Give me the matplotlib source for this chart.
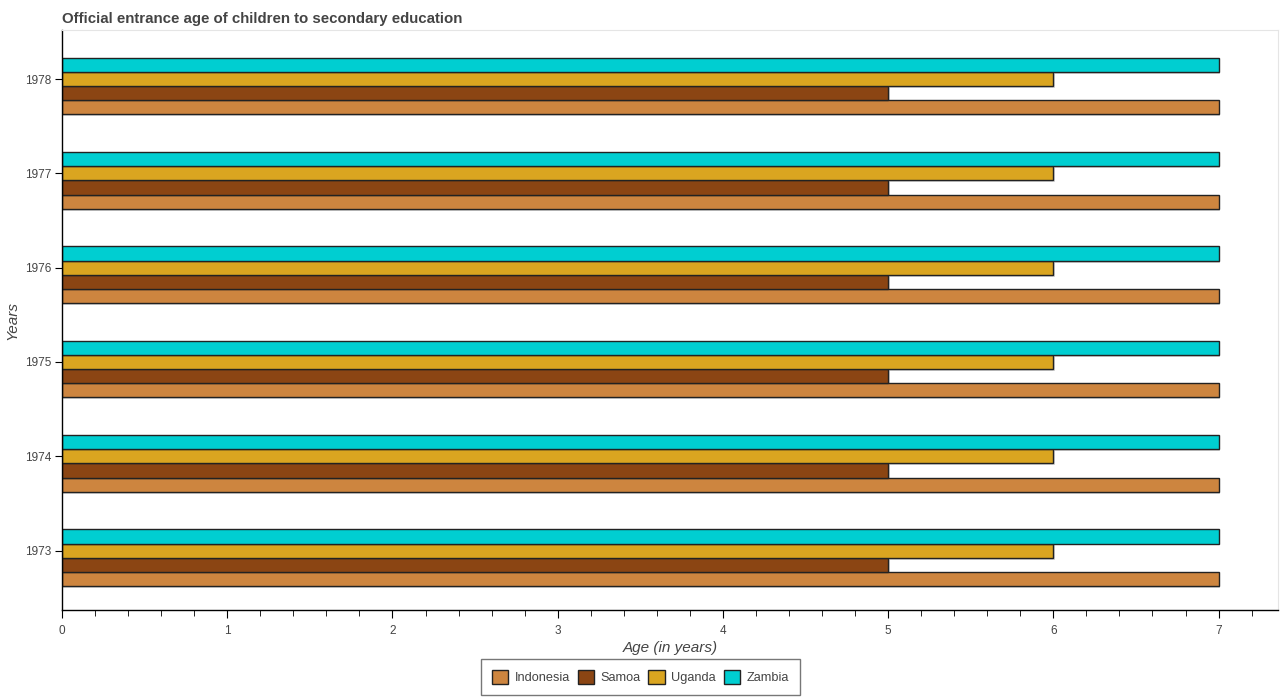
import numpy as np
import matplotlib.pyplot as plt
from matplotlib.ticker import MultipleLocator
from matplotlib.patches import Patch

plt.rcParams['font.family'] = ['Liberation Sans', 'DejaVu Sans']

# data
years = [1973, 1974, 1975, 1976, 1977, 1978]
countries = ['Indonesia', 'Samoa', 'Uganda', 'Zambia']
indonesia = [7, 7, 7, 7, 7, 7]
samoa = [5, 5, 5, 5, 5, 5]
uganda = [6, 6, 6, 6, 6, 6]
zambia = [7, 7, 7, 7, 7, 7]

colors = ['#CD853F', '#8B4513', '#DAA520', '#00CED1']
offsets = [-0.3, -0.15, 0.0, 0.15]
bar_h = 0.15

fig = plt.figure(figsize=(12.82, 7), dpi=100)
ax = fig.add_axes([0.0484, 0.1286, 0.9485, 0.8284])

y = np.array(years, dtype=float)
for vals, col, off in zip([indonesia, samoa, uganda, zambia], colors, offsets):
    # soft shadow under each bar
    ax.barh(y + off - 0.02, np.array(vals) + 0.01, height=bar_h, color='#bbbbbb',
            alpha=0.6, linewidth=0, zorder=1)
    ax.barh(y + off, vals, height=bar_h, color=col, edgecolor='#222222',
            linewidth=1, zorder=2)

ax.set_xlim(0, 7.36)
ax.set_ylim(1972.37, 1978.52)
ax.set_yticks(years)
ax.set_yticklabels([str(v) for v in years])
ax.xaxis.set_major_locator(MultipleLocator(1))
ax.xaxis.set_minor_locator(MultipleLocator(0.2))

for s in ['top', 'right']:
    ax.spines[s].set_color('#e5e5e5')
for s in ['left', 'bottom']:
    ax.spines[s].set_color('black')
    ax.spines[s].set_linewidth(1)

ax.tick_params(axis='both', colors='black', labelcolor='#444444', labelsize=8.5)
ax.tick_params(axis='x', which='major', length=6, pad=5)
ax.tick_params(axis='x', which='minor', length=4)
ax.tick_params(axis='y', length=5, pad=3)

ax.set_xlabel('Age (in years)', fontsize=11, style='italic', color='#444444', labelpad=3)
ax.set_ylabel('Years', fontsize=11, style='italic', color='#444444', labelpad=4)

fig.text(0.0484, 0.973, 'Official entrance age of children to secondary education',
         fontsize=10.8, fontweight='bold', color='#444444', va='center', ha='left')

handles = [Patch(facecolor=c, edgecolor='#222222', label=n) for c, n in zip(colors, countries)]
leg = fig.legend(handles=handles, loc='lower center', bbox_to_anchor=(0.4995, -0.002), ncol=4,
                 frameon=True, fontsize=9.2, handlelength=1.3, handleheight=1.3,
                 columnspacing=0.6, handletextpad=0.5, borderpad=0.85, fancybox=False)
leg.get_frame().set_edgecolor('#555555')
for t in leg.get_texts():
    t.set_color('#444444')

fig.savefig('out.png', dpi=100)
